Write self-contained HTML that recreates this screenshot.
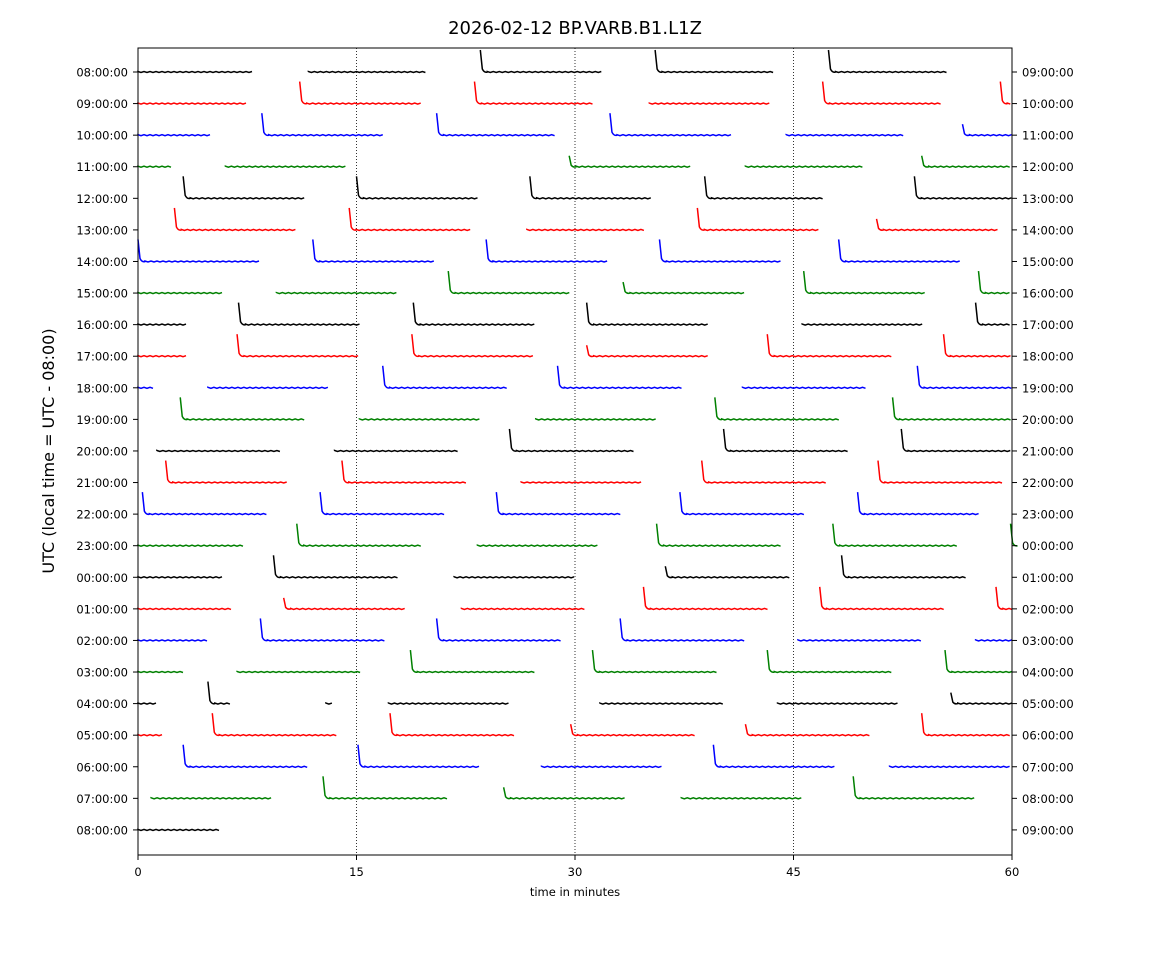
<!DOCTYPE html>
<html><head><meta charset="utf-8"><style>
body{margin:0;background:#fff;}
svg text{font-family:"DejaVu Sans","Liberation Sans",sans-serif;}
</style></head><body>
<svg id="chart" width="1150" height="950" xmlns="http://www.w3.org/2000/svg">
<rect width="1150" height="950" fill="#fff"/>
<text x="575" y="34" font-size="18" text-anchor="middle">2026-02-12 BP.VARB.B1.L1Z</text>
<text x="575" y="896" font-size="11.5" text-anchor="middle">time in minutes</text>
<text transform="translate(54,451) rotate(-90)" font-size="16" text-anchor="middle">UTC (local time = UTC - 08:00)</text>
<g id="grid"></g><g id="traces"></g><g id="axes"></g>
<rect x="138" y="48" width="874" height="807" fill="none" stroke="#000" stroke-width="1"/>
</svg>
<script>
const leftLabels=["08:00:00","09:00:00","10:00:00","11:00:00","12:00:00","13:00:00","14:00:00","15:00:00","16:00:00","17:00:00","18:00:00","19:00:00","20:00:00","21:00:00","22:00:00","23:00:00","00:00:00","01:00:00","02:00:00","03:00:00","04:00:00","05:00:00","06:00:00","07:00:00","08:00:00"];
const rightLabels=["09:00:00","10:00:00","11:00:00","12:00:00","13:00:00","14:00:00","15:00:00","16:00:00","17:00:00","18:00:00","19:00:00","20:00:00","21:00:00","22:00:00","23:00:00","00:00:00","01:00:00","02:00:00","03:00:00","04:00:00","05:00:00","06:00:00","07:00:00","08:00:00","09:00:00"];
const xTicks=[0,15,30,45,60];
const colors=["#000","#f00","#00f","#008000"];
// segments: [row, startMin, endMin, spike(0 none, 0.5 small, 1 big)]
const segments=[
[0,0,8.0,0],[0,11.7,19.9,0],[0,23.5,31.9,1],[0,35.5,43.8,1],[0,47.4,55.7,1],
[1,0,7.6,0],[1,11.1,19.5,1],[1,23.1,31.4,1],[1,35.1,43.4,0],[1,47.0,55.3,1],[1,59.2,60,1],
[2,0,5.1,0],[2,8.5,17.0,1],[2,20.5,28.8,1],[2,32.4,40.8,1],[2,44.5,52.7,0],[2,56.6,60,0.5],
[3,0,2.3,0],[3,6.0,14.3,0],[3,29.6,38.0,0.5],[3,41.7,49.9,0],[3,53.8,60,0.5],
[4,3.1,11.5,1],[4,15.0,23.4,1],[4,26.9,35.3,1],[4,38.9,47.2,1],[4,53.3,60,1],
[5,2.5,11.0,1],[5,14.5,22.9,1],[5,26.7,34.9,0],[5,38.4,46.8,1],[5,50.7,59.2,0.5],
[6,0,8.4,1],[6,12.0,20.4,1],[6,23.9,32.3,1],[6,35.8,44.2,1],[6,48.1,56.6,1],
[7,0,5.9,0],[7,9.5,17.8,0],[7,21.3,29.7,1],[7,33.3,41.8,0.5],[7,45.7,54.1,1],[7,57.7,60,1],
[8,0,3.4,0],[8,6.9,15.4,1],[8,18.9,27.4,1],[8,30.8,39.3,1],[8,45.6,54.0,0],[8,57.5,60,1],
[9,0,3.3,0],[9,6.8,15.2,1],[9,18.8,27.3,1],[9,30.8,39.3,0.5],[9,43.2,51.8,1],[9,55.3,60,1],
[10,0,1.2,0],[10,4.8,13.2,0],[10,16.8,25.4,1],[10,28.8,37.4,1],[10,41.5,50.0,0],[10,53.5,60,1],
[11,2.9,11.5,1],[11,15.2,23.6,0],[11,27.3,35.7,0],[11,39.6,48.3,1],[11,51.8,60,1],
[12,1.3,9.9,0],[12,13.5,22.0,0],[12,25.5,34.2,1],[12,40.2,48.9,1],[12,52.4,60,1],
[13,1.9,10.4,1],[13,14.0,22.6,1],[13,26.3,34.7,0],[13,38.7,47.3,1],[13,50.8,59.4,1],
[14,0.3,8.9,1],[14,12.5,21.1,1],[14,24.6,33.3,1],[14,37.2,45.9,1],[14,49.4,57.9,1],
[15,0,7.4,0],[15,10.9,19.5,1],[15,23.3,31.7,0],[15,35.6,44.3,1],[15,47.7,56.4,1],[15,59.9,60,1],
[16,0,5.8,0],[16,9.3,18.0,1],[16,21.7,30.1,0],[16,36.2,44.9,0.5],[16,48.3,57.0,1],
[17,0,6.4,0],[17,10.0,18.5,0.5],[17,22.2,30.7,0],[17,34.7,43.3,1],[17,46.8,55.4,1],[17,58.9,60,1],
[18,0,4.9,0],[18,8.4,17.0,1],[18,20.5,29.1,1],[18,33.1,41.7,1],[18,45.3,53.8,0],[18,57.5,60,0],
[19,0,3.2,0],[19,6.8,15.3,0],[19,18.7,27.4,1],[19,31.2,39.8,1],[19,43.2,51.9,1],[19,55.4,60,1],
[20,0,1.4,0],[20,4.8,6.5,1],[20,12.9,13.4,0],[20,17.2,25.5,0],[20,31.7,40.2,0],[20,43.9,52.3,0],[20,55.8,60,0.5],
[21,0,1.7,0],[21,5.1,13.8,1],[21,17.3,25.9,1],[21,29.7,38.3,0.5],[21,41.7,50.3,0.5],[21,53.8,60,1],
[22,3.1,11.7,1],[22,15.1,23.6,1],[22,27.7,36.0,0],[22,39.5,47.9,1],[22,51.6,60,0],
[23,0.9,9.2,0],[23,12.7,21.3,1],[23,25.1,33.6,0.5],[23,37.3,45.7,0],[23,49.1,57.6,1],
[24,0,5.6,0]
];
const NS="http://www.w3.org/2000/svg";
const X0=138,X1=1012,Y0=48,Y1=855,R0=72,RS=31.58;
const xs=m=>X0+(m/60)*(X1-X0);
const ys=r=>R0+r*RS;
function mk(tag,attrs,parent){const e=document.createElementNS(NS,tag);for(const k in attrs)e.setAttribute(k,attrs[k]);parent.appendChild(e);return e;}
const grid=document.getElementById('grid'),traces=document.getElementById('traces'),axes=document.getElementById('axes');
xTicks.forEach((t,i)=>{
  const x=xs(t);
  if(i>0&&i<xTicks.length-1){
    const g=mk('line',{x1:x,x2:x,y1:Y0,y2:Y1,stroke:'#000','stroke-width':0.8,'stroke-dasharray':'1,2'},grid);
    
    
  }
  mk('line',{x1:x,x2:x,y1:Y1,y2:Y1+5,stroke:'#000'},axes);
  const tx=mk('text',{x:x,y:Y1+21,'font-size':11.5,'text-anchor':'middle'},axes);
  tx.textContent=t;
  
  
});
leftLabels.forEach((l,r)=>{
  const y=ys(r);
  mk('line',{x1:X0-5,x2:X0,y1:y,y2:y,stroke:'#000'},axes);
  mk('line',{x1:X1,x2:X1+5,y1:y,y2:y,stroke:'#000'},axes);
  const a=mk('text',{x:X0-10,y:y+4.5,'font-size':11.5,'text-anchor':'end'},axes);
  a.textContent=l;
  
  
  const b=mk('text',{x:X1+10,y:y+4.5,'font-size':11.5,'text-anchor':'start'},axes);
  b.textContent=rightLabels[r];
  
  
});
segments.forEach(s=>{
  const [r,a,b,sp]=s;
  const y=ys(r),xa=xs(a),xb=xs(b);
  let d='';
  let x=xa;
  if(sp>0){
    const h=Math.max(Y0-y,-22*sp);
    d+=`M${xa},${y+h} L${xa+2},${y-3*sp} Q${xa+4},${y+1} ${xa+7},${y}`;
    x=xa+7;
  } else d+=`M${xa},${y}`;
  let k=0;
  for(;x<xb;x+=3){k++;d+=` L${Math.min(x,xb).toFixed(1)},${(y+(k%2?-0.5:0.5)).toFixed(1)}`;}
  const p=mk('path',{d:d,fill:'none',stroke:colors[r%4],'stroke-width':1.5},traces);
  
  
});
</script>
</body></html>
